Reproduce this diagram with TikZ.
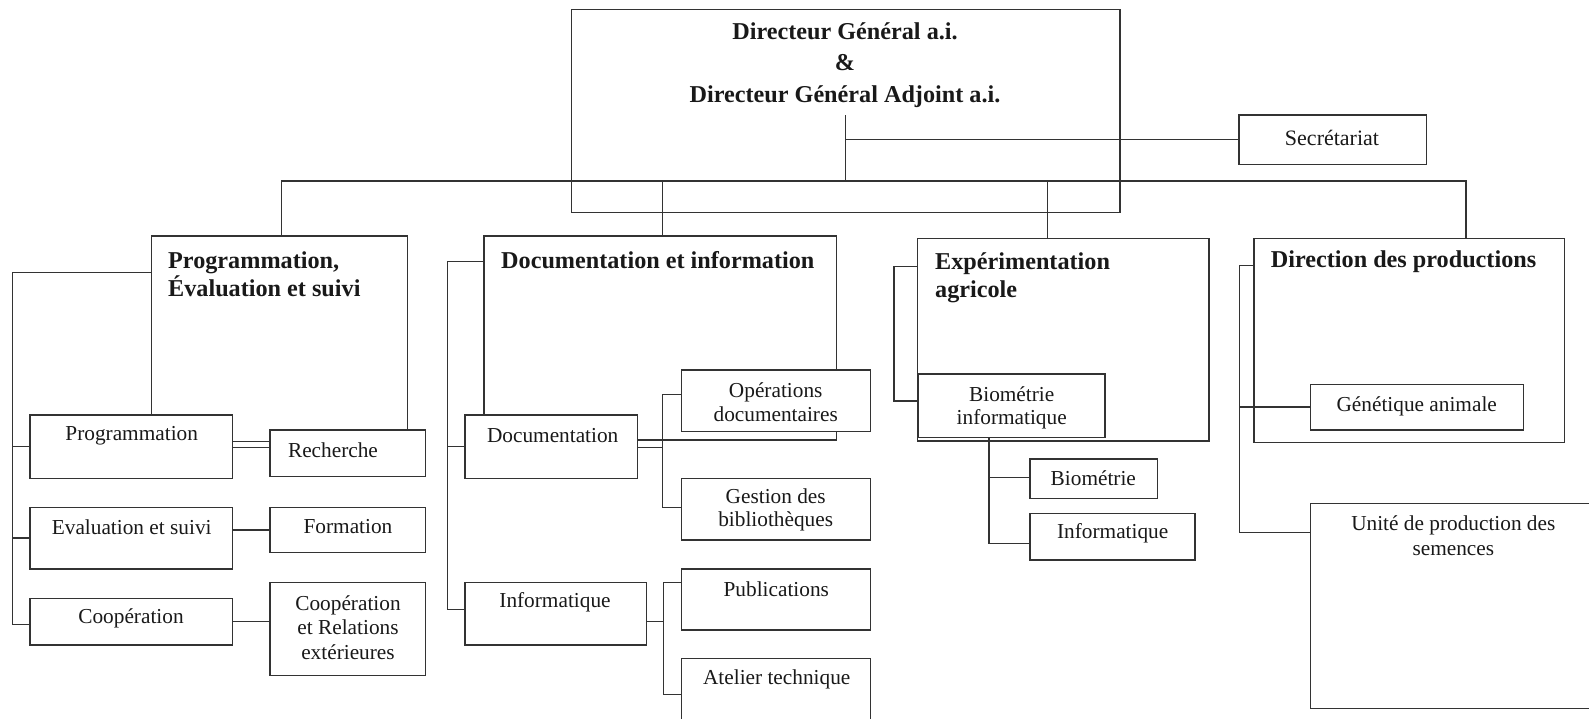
\documentclass[tikz,border=0pt]{standalone}
\usepackage{fontspec}
\setmainfont{Liberation Serif}
\newcommand{\orgbox}[6]{\node[#1, minimum width={#5pt-#3pt}, minimum height={#6pt-#4pt}] (#2) at (#3,#4) {};}
\begin{document}
\begin{tikzpicture}[x=1pt,y=-1pt,
  ln/.style={line width=1.5pt, draw=black!80},
  box/.style={ln, fill=white, inner sep=0pt, outer sep=0pt, anchor=north west},
  bigbox/.style={ln, inner sep=0pt, outer sep=0pt, anchor=north west},
  txt/.style={inner sep=0pt, align=center, font=\fontsize{21.3}{23.5}\selectfont, text=black!90},
  ttl/.style={inner sep=0pt, align=left, font=\fontsize{24.2}{28.3}\selectfont\bfseries, text=black!90}]
\fill[white] (0,0) rectangle (1589,718);
\useasboundingbox (0,0) rectangle (1589,718);
\clip (0,0) rectangle (1589,718);

% big boxes
\orgbox{bigbox}{top}{571.7}{9.3}{1120}{212.7}
\orgbox{box}{secr}{1239}{115}{1426.7}{164.3}
\orgbox{bigbox}{prog}{151.7}{236}{407.7}{441.7}
\orgbox{bigbox}{doc}{484}{236}{836.7}{440}
\orgbox{bigbox}{exp}{917.3}{238.3}{1209}{441}
\orgbox{bigbox}{dir}{1254}{238.3}{1564.3}{442.7}

% sub boxes
\orgbox{box}{progA}{30}{415}{232.3}{478.3}
\orgbox{box}{rech}{270}{430}{425.7}{476.7}
\orgbox{box}{eval}{30}{507.3}{232.3}{569}
\orgbox{box}{form}{270}{507.3}{425.7}{552.7}
\orgbox{box}{coop}{30}{598.3}{232.3}{645}
\orgbox{box}{coopRel}{270}{582.3}{425.7}{675.7}
\orgbox{box}{docA}{465}{415}{637.7}{478.3}
\orgbox{box}{ops}{681.7}{370}{870.7}{431.7}
\orgbox{box}{gest}{681.7}{478.3}{870.7}{540}
\orgbox{box}{info}{465}{582.3}{646.7}{645}
\orgbox{box}{pub}{681.7}{569}{870.7}{630}
\orgbox{box}{atel}{681.7}{658.3}{870.7}{724}
\orgbox{box}{bioinf}{918.3}{374}{1105}{437.3}
\orgbox{box}{bio}{1030}{459}{1157.3}{498.3}
\orgbox{box}{infoE}{1030}{513.3}{1195}{560}
\orgbox{box}{gen}{1310.7}{384.3}{1523.3}{430}
\orgbox{box}{unite}{1310.7}{503.3}{1594}{708.3}

% connector points
\coordinate (tv) at (845.3,115);
\coordinate (busL) at (281.7,181);
\coordinate (busR) at (1466,181);
\coordinate (bD) at (662.3,181);
\coordinate (bE) at (1047.7,181);
\coordinate (pbT) at (12.7,272.7);
\coordinate (pbB) at (12.7,624.3);
\coordinate (dbT) at (447.3,261.7);
\coordinate (dbB) at (447.3,609.3);
\coordinate (dsT) at (662.3,394.3);
\coordinate (dsB) at (662.3,507.3);
\coordinate (isT) at (663.3,582.3);
\coordinate (isM) at (663.3,621.7);
\coordinate (isB) at (663.3,694.3);
\coordinate (ebT) at (894,266.7);
\coordinate (ebB) at (894,401);
\coordinate (bsB) at (989,543.3);
\coordinate (bsM) at (989,477.7);
\coordinate (rbT) at (1239.3,265.7);
\coordinate (rbB) at (1239.3,532.3);

% top connectors
\draw[ln] (tv) -- (tv |- busL);
\draw[ln] (tv |- secr.west) -- (secr.west);
\draw[ln] (prog.north -| busL) -- (busL) -- (busR) -- (busR |- dir.north);
\draw[ln] (bD) -- (bD |- doc.north);
\draw[ln] (bE) -- (bE |- exp.north);

% programmation group
\draw[ln] (pbT -| prog.west) -- (pbT) -- (pbB) -- (pbB -| coop.west);
\draw[ln] (pbT |- progA.west) -- (progA.west);
\draw[ln] (pbT |- eval.west) -- (eval.west);
\draw[ln] ([yshift=-1pt]progA.east) -- ([yshift=-1pt]progA.east -| rech.west);
\draw[ln] (eval.east |- form.west) -- (form.west);
\draw[ln] (coop.east) -- (coop.east -| coopRel.west);

% documentation group
\draw[ln] (dbT -| doc.west) -- (dbT) -- (dbB) -- (dbB -| info.west);
\draw[ln] (dbT |- docA.west) -- (docA.west);
\draw[ln] ([yshift=-1pt]docA.east) -- ([yshift=-1pt]docA.east -| dsT);
\draw[ln] (dsT -| ops.west) -- (dsT) -- (dsB) -- (dsB -| gest.west);
\draw[ln] (isM -| info.east) -- (isM);
\draw[ln] (isT -| pub.west) -- (isT) -- (isB) -- (isB -| atel.west);

% experimentation group
\draw[ln] (ebT -| exp.west) -- (ebT) -- (ebB) -- (ebB -| bioinf.west);
\draw[ln] (bsB |- bioinf.south) -- (bsB) -- (bsB -| infoE.west);
\draw[ln] (bsM) -- (bsM -| bio.west);

% direction group
\draw[ln] (rbT -| dir.west) -- (rbT) -- (rbB) -- (rbB -| unite.west);
\draw[ln] (rbT |- gen.west) -- (gen.west);

% texts
\node[ttl, align=center, font=\fontsize{24.2}{31.7}\selectfont\bfseries] (topT) at (845,65) {Directeur Général a.i.\\\&\\Directeur Général Adjoint a.i.};
\node[txt, font=\fontsize{22}{24}\selectfont] (secrT) at (1332,138.3) {Secrétariat};
\node[ttl, anchor=west] (progT) at (168,274) {Programmation,\\Évaluation et suivi};
\node[txt] (progAT) at (131.7,436) {Programmation};
\node[txt] (rechT) at (333,450) {Recherche};
\node[txt] (evalT) at (131.7,527.3) {Evaluation et suivi};
\node[txt] (formT) at (348,527) {Formation};
\node[txt] (coopT) at (131,618.3) {Coopération};
\node[txt, font=\fontsize{21.3}{24.8}\selectfont] (coopRelT) at (348,627.5) {Coopération\\et Relations\\extérieures};
\node[ttl, anchor=west] (docT) at (501,260) {Documentation et information};
\node[txt] (docAT) at (552.7,436) {Documentation};
\node[txt] (opsT) at (775.7,402) {Opérations\\documentaires};
\node[txt] (gestT) at (775.7,510) {Gestion des\\bibliothèques};
\node[txt] (infoT) at (555,602.3) {Informatique};
\node[txt] (pubT) at (776.3,589.3) {Publications};
\node[txt] (atelT) at (776.7,679) {Atelier technique};
\node[ttl, anchor=west] (expT) at (935,277.5) {Expérimentation\\agricole};
\node[txt] (bioinfT) at (1011.7,408) {Biométrie\\informatique};
\node[txt] (bioT) at (1093.3,478.3) {Biométrie};
\node[txt] (infoET) at (1112.7,533.3) {Informatique};
\node[ttl, anchor=west] (dirT) at (1270.7,261.7) {Direction des productions};
\node[txt] (genT) at (1416.7,406.7) {Génétique animale};
\node[txt, font=\fontsize{21.3}{25}\selectfont] (uniteT) at (1453.3,535.8) {Unité de production des\\semences};
\end{tikzpicture}
\end{document}
